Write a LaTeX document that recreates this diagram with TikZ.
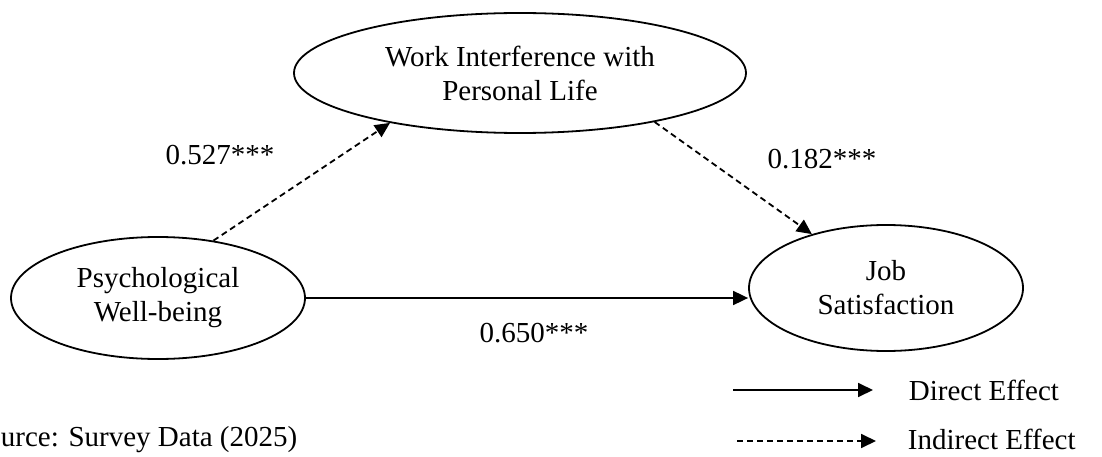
\documentclass[tikz,border=0pt]{standalone}
\usepackage{fontspec}
\setmainfont{Liberation Serif}
\usetikzlibrary{arrows.meta,shapes.geometric}

\begin{document}
\begin{tikzpicture}[x=1pt, y=-1pt, line width=1.8pt,
    every node/.style={font=\fontsize{29}{34}\selectfont},
    latent/.style={draw, ellipse, inner sep=0pt, align=center},
    direct/.style={-{Triangle[length=15pt,width=14pt]}},
    indirect/.style={-{Triangle[length=15pt,width=14pt]}, dash pattern=on 6pt off 4pt}]
    \useasboundingbox (0,0) rectangle (1102,457);

    % Constructs
    \node[latent, minimum width=452, minimum height=120] (wip) at (520,73) {Work Interference with\\Personal Life};
    \node[latent, minimum width=294, minimum height=122] (pwb) at (158,298) {Psychological\\Well-being};
    \node[latent, minimum width=274, minimum height=126] (js) at (886,288) {Job\\Satisfaction};

    % Paths
    \draw[indirect] (pwb.46) -- (wip.201);
    \draw[indirect] (wip.340) -- (js.144);
    \draw[direct] (pwb.east) -- (pwb.east -| js.west);

    % Coefficients
    \node (pw) at (220,155) {0.527***};
    \node (wj) at (822,159) {0.182***};
    \node (pj) at (534,333) {0.650***};

    % Legend
    \coordinate (ds) at (733,390);
    \coordinate (de) at (873,390);
    \coordinate (is) at (737,441);
    \coordinate (ie) at (876,441);
    \draw[direct] (ds) -- (de);
    \draw[indirect] (is) -- (ie);
    \node[anchor=west, inner sep=0pt] (dlab) at (908,390) {Direct Effect};
    \node[anchor=west, inner sep=0pt] (ilab) at (907,439) {Indirect Effect};

    \node[anchor=base west, inner sep=0pt] (src) at (0,446) {urce: Survey Data (2025)};
\end{tikzpicture}
\end{document}
